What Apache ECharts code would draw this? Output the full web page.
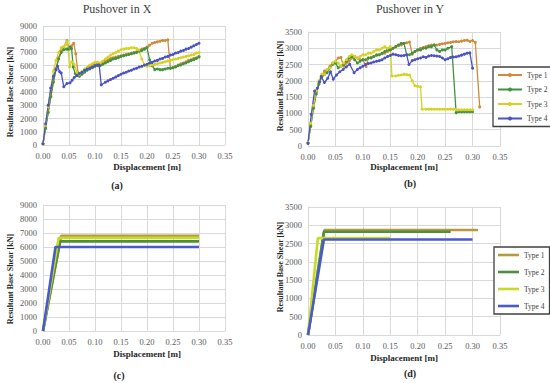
<!DOCTYPE html>
<html><head><meta charset="utf-8">
<script src="https://cdn.jsdelivr.net/npm/echarts@6/dist/echarts.min.js"></script>
<style>html,body{margin:0;padding:0;background:#fff}#c{width:550px;height:383px}</style>
</head><body><div id="c"></div>
<script>
// ---------- DATA ----------
const seriesNames = ['Type 1', 'Type 2', 'Type 3', 'Type 4'];
const xTickLabels = ['0.00','0.05','0.10','0.15','0.20','0.25','0.30','0.35'];
const yTicksX = [0,1000,2000,3000,4000,5000,6000,7000,8000,9000];
const yTicksY = [0,500,1000,1500,2000,2500,3000,3500];

// (a) Pushover in X  [displacement m, base shear kN]
const aType1 = [[0,100],[0.005,1300],[0.01,2500],[0.015,3700],[0.02,4800],[0.025,5800],[0.03,6600],[0.035,7100],[0.04,7400],[0.046,7900],[0.051,7250],[0.055,7500],[0.059,7700],[0.063,6900],[0.067,5500],[0.07,5300],[0.075,5500],[0.08,5650],[0.085,5800],[0.09,5950],[0.095,6050],[0.1,6150],[0.105,6200],[0.11,6150],[0.115,6250],[0.12,6350],[0.125,6450],[0.13,6550],[0.135,6600],[0.14,6650],[0.145,6700],[0.15,6750],[0.155,6800],[0.16,6850],[0.165,6900],[0.17,6950],[0.175,7000],[0.18,7050],[0.185,7150],[0.19,7250],[0.195,7300],[0.2,7400],[0.205,7550],[0.21,7700],[0.215,7750],[0.22,7800],[0.225,7850],[0.23,7900],[0.235,7900],[0.24,7950],[0.245,5800],[0.25,5850],[0.255,5950],[0.26,6050],[0.265,6150],[0.27,6200],[0.275,6300],[0.28,6400],[0.285,6450],[0.29,6550],[0.295,6600],[0.3,6700]];
const aType2 = [[0,100],[0.005,1250],[0.01,2450],[0.015,3650],[0.02,4750],[0.025,5700],[0.03,6500],[0.035,7000],[0.04,7200],[0.045,7250],[0.048,7250],[0.052,7400],[0.055,7300],[0.058,5900],[0.062,5400],[0.066,5250],[0.07,5200],[0.075,5350],[0.08,5500],[0.085,5650],[0.09,5750],[0.095,5850],[0.1,5950],[0.105,6000],[0.11,6000],[0.115,6100],[0.12,6200],[0.125,6300],[0.13,6400],[0.135,6500],[0.14,6550],[0.145,6600],[0.15,6700],[0.155,6750],[0.16,6800],[0.165,6850],[0.17,6900],[0.175,6950],[0.18,7000],[0.185,7100],[0.19,7150],[0.195,7250],[0.2,7350],[0.205,6450],[0.21,6000],[0.215,5700],[0.22,5750],[0.225,5700],[0.23,5700],[0.235,5750],[0.24,5800],[0.245,5800],[0.25,5850],[0.255,5900],[0.26,6000],[0.265,6050],[0.27,6150],[0.275,6200],[0.28,6300],[0.285,6400],[0.29,6450],[0.295,6550],[0.3,6650]];
const aType3 = [[0,100],[0.005,1500],[0.01,2900],[0.015,4300],[0.02,5600],[0.025,6400],[0.03,7000],[0.035,7350],[0.04,7450],[0.044,7600],[0.047,7850],[0.051,5900],[0.055,6300],[0.06,6100],[0.065,5500],[0.07,5350],[0.075,5550],[0.08,5750],[0.085,5900],[0.09,6050],[0.095,6150],[0.1,6250],[0.105,6250],[0.11,6200],[0.115,6350],[0.12,6500],[0.125,6650],[0.13,6800],[0.135,6900],[0.14,7000],[0.145,7100],[0.15,7200],[0.155,7250],[0.16,7300],[0.165,7300],[0.17,7350],[0.175,7350],[0.18,7300],[0.184,7200],[0.19,6500],[0.196,6000],[0.2,5950],[0.205,6000],[0.21,6050],[0.215,6100],[0.22,6150],[0.225,6200],[0.23,6250],[0.235,6300],[0.24,6350],[0.245,6400],[0.25,6450],[0.255,6500],[0.26,6550],[0.265,6600],[0.27,6650],[0.275,6700],[0.28,6750],[0.285,6800],[0.29,6850],[0.295,6950],[0.3,7000]];
const aType4 = [[0,100],[0.005,1600],[0.01,3000],[0.015,4300],[0.02,5200],[0.025,5700],[0.028,5950],[0.032,5550],[0.035,5450],[0.04,4400],[0.046,4650],[0.052,4700],[0.056,4900],[0.06,5100],[0.065,5250],[0.07,5400],[0.075,5500],[0.08,5650],[0.085,5750],[0.09,5800],[0.095,5900],[0.1,6000],[0.105,6050],[0.108,6050],[0.112,4550],[0.12,4750],[0.125,4850],[0.13,4950],[0.135,5050],[0.14,5150],[0.145,5250],[0.15,5350],[0.155,5450],[0.16,5500],[0.165,5600],[0.17,5650],[0.175,5750],[0.18,5800],[0.185,5900],[0.19,5950],[0.195,6050],[0.2,6100],[0.205,6200],[0.21,6250],[0.215,6350],[0.22,6400],[0.225,6500],[0.23,6550],[0.235,6650],[0.24,6700],[0.245,6800],[0.25,6850],[0.255,6950],[0.26,7000],[0.265,7100],[0.27,7150],[0.275,7250],[0.28,7300],[0.285,7400],[0.29,7500],[0.295,7600],[0.3,7700]];

// (b) Pushover in Y
const bType1 = [[0,100],[0.005,650],[0.01,1200],[0.015,1650],[0.02,1950],[0.025,2150],[0.03,2300],[0.035,2350],[0.04,2450],[0.045,2550],[0.05,2600],[0.055,2700],[0.06,2720],[0.065,2450],[0.07,2550],[0.075,2600],[0.08,2700],[0.085,2750],[0.09,2700],[0.095,2650],[0.1,2650],[0.106,2440],[0.11,2700],[0.115,2720],[0.12,2750],[0.125,2780],[0.13,2800],[0.135,2830],[0.14,2850],[0.145,2900],[0.15,2950],[0.155,3000],[0.16,3050],[0.165,3080],[0.17,3100],[0.175,3150],[0.18,3170],[0.185,3190],[0.19,2820],[0.195,2900],[0.2,2950],[0.205,3000],[0.21,3020],[0.215,3050],[0.22,3080],[0.225,3100],[0.23,3100],[0.235,3100],[0.24,3120],[0.245,3140],[0.25,3150],[0.255,3170],[0.26,3180],[0.265,3200],[0.27,3210],[0.275,3200],[0.28,3220],[0.285,3240],[0.29,3250],[0.295,3210],[0.3,3240],[0.305,3180],[0.313,1200]];
const bType2 = [[0,100],[0.005,600],[0.01,1150],[0.015,1600],[0.02,1900],[0.025,2100],[0.03,2200],[0.035,2250],[0.04,2400],[0.045,2500],[0.05,2550],[0.055,2400],[0.06,2450],[0.065,2500],[0.07,2600],[0.075,2700],[0.08,2750],[0.085,2650],[0.09,2550],[0.095,2600],[0.1,2650],[0.105,2650],[0.11,2700],[0.115,2700],[0.12,2750],[0.125,2800],[0.13,2800],[0.135,2850],[0.14,2900],[0.145,2950],[0.15,2950],[0.155,3000],[0.16,3050],[0.165,3100],[0.17,3150],[0.175,3150],[0.18,2800],[0.185,2800],[0.19,2850],[0.195,2900],[0.2,2950],[0.205,2950],[0.21,3000],[0.215,3000],[0.22,3050],[0.225,3050],[0.23,3100],[0.235,2950],[0.24,2900],[0.245,2950],[0.25,2950],[0.255,3000],[0.262,3050],[0.27,1020],[0.275,1050],[0.28,1050],[0.285,1050],[0.29,1050],[0.295,1050],[0.3,1050]];
const bType3 = [[0,100],[0.005,700],[0.01,1250],[0.015,1700],[0.02,2000],[0.025,2200],[0.03,2200],[0.035,2350],[0.04,2400],[0.045,2550],[0.05,2600],[0.055,2550],[0.06,2450],[0.065,2550],[0.07,2650],[0.075,2750],[0.08,2800],[0.085,2750],[0.09,2700],[0.095,2750],[0.1,2800],[0.105,2800],[0.11,2850],[0.115,2850],[0.12,2900],[0.125,2950],[0.13,2950],[0.135,3000],[0.14,3050],[0.145,3000],[0.15,3050],[0.153,2150],[0.16,2150],[0.165,2170],[0.17,2180],[0.175,2200],[0.18,2190],[0.185,2180],[0.19,2000],[0.195,1850],[0.2,1830],[0.205,1820],[0.208,1130],[0.215,1130],[0.22,1130],[0.225,1130],[0.23,1130],[0.235,1130],[0.24,1130],[0.245,1130],[0.25,1130],[0.255,1130],[0.26,1130],[0.265,1130],[0.27,1120],[0.275,1110],[0.28,1110],[0.285,1110],[0.29,1110],[0.295,1110],[0.3,1110]];
const bType4 = [[0,80],[0.006,970],[0.012,1690],[0.017,1770],[0.021,1970],[0.024,2130],[0.03,1950],[0.036,2080],[0.041,2280],[0.046,2050],[0.052,2180],[0.058,2280],[0.064,2350],[0.07,2430],[0.076,2510],[0.084,2250],[0.09,2350],[0.095,2400],[0.1,2450],[0.105,2500],[0.11,2530],[0.115,2550],[0.12,2580],[0.125,2600],[0.13,2620],[0.135,2650],[0.14,2700],[0.145,2750],[0.15,2780],[0.155,2820],[0.16,2800],[0.165,2780],[0.17,2770],[0.175,2780],[0.18,2800],[0.184,2500],[0.19,2620],[0.195,2650],[0.2,2680],[0.205,2700],[0.21,2740],[0.215,2720],[0.22,2760],[0.225,2780],[0.23,2770],[0.235,2760],[0.24,2750],[0.245,2700],[0.25,2650],[0.255,2680],[0.26,2720],[0.265,2730],[0.27,2740],[0.275,2760],[0.28,2790],[0.285,2820],[0.29,2850],[0.295,2860],[0.3,2390]];

// (c) bilinear X
const cType1 = [[0,0],[0.035,6800],[0.30,6800]];
const cType2 = [[0,0],[0.033,6400],[0.30,6400]];
const cType3 = [[0,0],[0.030,6650],[0.30,6650]];
const cType4 = [[0,0],[0.024,6000],[0.30,6000]];

// (d) bilinear Y
const dType1 = [[0,0],[0.030,2870],[0.31,2870]];
const dType2 = [[0,0],[0.029,2825],[0.26,2825]];
const dType3 = [[0,0],[0.018,2650],[0.15,2650]];
const dType4 = [[0,0],[0.029,2610],[0.30,2610]];

// ---------- STYLE ----------
const FONT = "'Liberation Serif', 'DejaVu Serif', serif";
const colorsMarked = ['#D08A3A', '#3F9240', '#D4D41E', '#4A52C6'];
const colorsPlain  = ['#B49A40', '#4E8F3C', '#C8DA28', '#4A5ACB'];
const GRID_C = '#d9d9d9';

const grids = [
  {left: 43, top: 26, width: 182, height: 119},
  {left: 308, top: 32, width: 192, height: 114},
  {left: 43, top: 205, width: 182, height: 126},
  {left: 308, top: 207, width: 192, height: 128}
];

function xAx(gi) {
  return {type: 'value', gridIndex: gi, min: 0, max: 0.35, interval: 0.05,
    axisLabel: {formatter: v => xTickLabels[Math.round(v / 0.05)], fontFamily: FONT, fontSize: 8.5, color: '#595959', margin: 6},
    axisLine: {show: true, lineStyle: {color: GRID_C}}, axisTick: {show: false},
    splitLine: {show: true, lineStyle: {color: GRID_C, width: 1}}};
}
function yAx(gi, ticks) {
  const step = ticks[1] - ticks[0];
  return {type: 'value', gridIndex: gi, min: ticks[0], max: ticks[ticks.length - 1], interval: step,
    axisLabel: {formatter: v => String(Math.round(v)), fontFamily: FONT, fontSize: 8.5, color: '#595959', margin: 6},
    axisLine: {show: true, lineStyle: {color: GRID_C}}, axisTick: {show: false},
    splitLine: {show: true, lineStyle: {color: GRID_C, width: 1}}};
}

const series = [];
const groupsMarked = [[aType1, aType2, aType3, aType4], [bType1, bType2, bType3, bType4]];
groupsMarked.forEach((grp, gi) => {
  grp.forEach((data, i) => series.push({
    name: seriesNames[i], type: 'line', xAxisIndex: gi, yAxisIndex: gi, data: data,
    symbol: 'circle', symbolSize: 3, showSymbol: true, showAllSymbol: true,
    lineStyle: {color: colorsMarked[i], width: 1.3}, itemStyle: {color: colorsMarked[i]},
    emphasis: {disabled: true}, silent: true
  }));
});
const groupsPlain = [[cType1, cType2, cType3, cType4], [dType1, dType2, dType3, dType4]];
groupsPlain.forEach((grp, k) => {
  const gi = k + 2;
  grp.forEach((data, i) => series.push({
    name: seriesNames[i], type: 'line', xAxisIndex: gi, yAxisIndex: gi, data: data,
    symbol: 'none', showSymbol: false,
    lineStyle: {color: colorsPlain[i], width: 2.6}, itemStyle: {color: colorsPlain[i]},
    emphasis: {disabled: true}, silent: true
  }));
});

function txt(text, x, y, size, bold, rot) {
  return {type: 'text', x: x, y: y, rotation: rot || 0, silent: true,
    style: {text: text, align: 'center', verticalAlign: 'middle', fill: bold ? '#262626' : '#404040',
      font: (bold ? 'bold ' : '') + size + 'px ' + FONT}};
}

const yName = 'Resultant Base Shear [kN]';
const xName = 'Displacement [m]';
const graphic = [
  txt('Pushover in X', 117, 9, 12, false),
  txt('Pushover in Y', 410, 9, 12, false),
  txt(xName, 147, 167, 9, true), txt(xName, 404, 167, 9, true),
  txt(xName, 147, 354, 9, true), txt(xName, 404, 358, 9, true),
  txt(yName, 10, 92, 8, true, Math.PI / 2), txt(yName, 280, 86, 8, true, Math.PI / 2),
  txt(yName, 10, 279, 8, true, Math.PI / 2), txt(yName, 280, 267, 8, true, Math.PI / 2),
  txt('(a)', 117, 185, 10, true), txt('(b)', 410, 183, 10, true),
  txt('(c)', 119, 375, 10, true), txt('(d)', 410, 373, 10, true)
];

const legendCommon = {orient: 'vertical', selectedMode: false, borderColor: '#404040', borderWidth: 1.3,
  backgroundColor: '#fff', textStyle: {fontFamily: FONT, fontSize: 7.5, color: '#404040'}};

const option = {
  animation: false,
  backgroundColor: '#fff',
  grid: grids,
  xAxis: [xAx(0), xAx(1), xAx(2), xAx(3)],
  yAxis: [yAx(0, yTicksX), yAx(1, yTicksY), yAx(2, yTicksX), yAx(3, yTicksY)],
  legend: [
    Object.assign({}, legendCommon, {left: 493, top: 67, width: 50, padding: [4, 6, 4, 4], itemGap: 6.5, itemWidth: 24, itemHeight: 5,
      data: seriesNames.map(n => ({name: n}))}),
    Object.assign({}, legendCommon, {left: 494, top: 247, width: 46, padding: [4, 5, 4, 4], itemGap: 9, itemWidth: 21, itemHeight: 2.6,
      data: seriesNames.map((n, i) => ({name: n, icon: 'rect', itemStyle: {color: colorsPlain[i]}}))})
  ],
  series: series,
  graphic: graphic
};

const chart = echarts.init(document.getElementById('c'), null, {renderer: 'svg', width: 550, height: 383});
chart.setOption(option);
</script></body></html>
